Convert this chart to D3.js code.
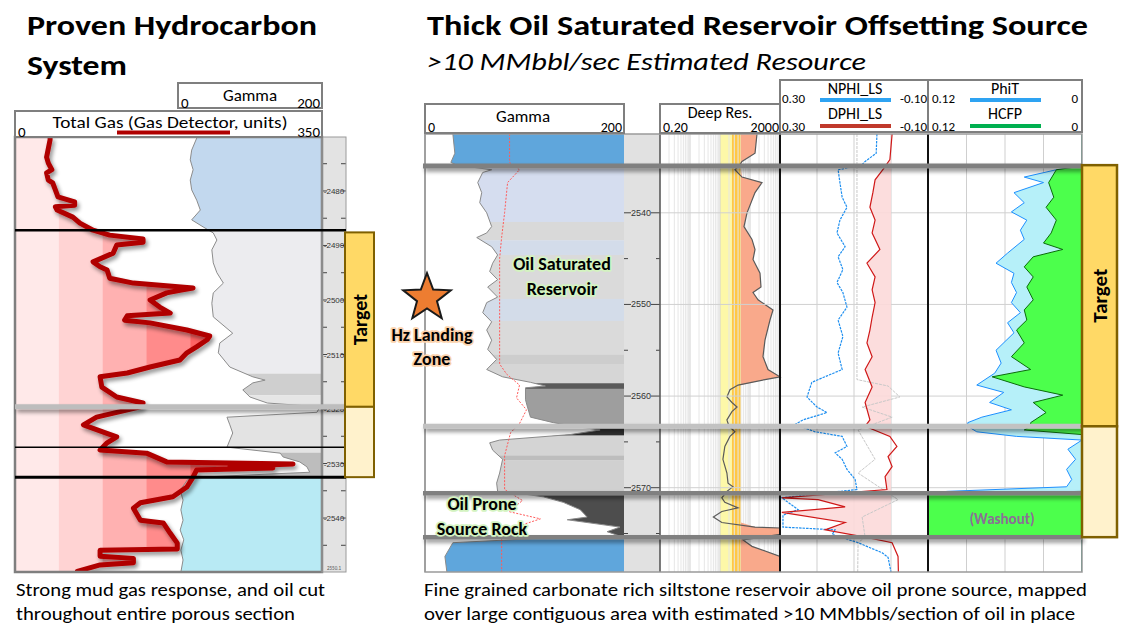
<!DOCTYPE html>
<html><head><meta charset="utf-8">
<script src="https://cdn.jsdelivr.net/npm/d3@7"></script>
<style>body{margin:0;background:#fff} svg{display:block}</style>
</head><body><svg id="c" width="1127" height="630"></svg>
<script>
// ---------------- DATA ----------------
// Left well (depth m, value)
const gasDepth = [2470.6,2473.8,2474.9,2476.1,2476.7,2478.0,2478.5,2481.1,2482.0,2482.6,2482.9,2483.5,2484.8,2485.9,2487.2,2488.1,2488.8,2489.4,2489.9,2491.4,2493.0,2493.9,2494.5,2496.0,2496.9,2497.8,2498.2,2498.7,2500.0,2501.3,2502.4,2502.9,2503.7,2504.2,2505.5,2506.6,2507.3,2508.6,2509.7,2511.0,2512.3,2513.4,2514.1,2516.0,2517.8,2518.9,2519.6,2521.5,2522.9,2524.2,2525.1,2526.2,2527.5,2528.1,2529.7,2530.1,2530.5,2530.8,2531.2,2532.5,2534.3,2536.1,2537.2,2538.2,2540.4,2540.9,2542.8,2544.6,2545.7,2545.9,2547.0,2547.4,2548.2,2548.6,2549.8];
const gasUnits = [40,36,38,42,36,38,43,49,68,68,46,48,66,74,89,108,146,146,116,112,89,97,105,108,135,203,188,173,154,165,177,128,125,154,196,222,219,207,196,188,154,128,97,99,116,146,143,93,78,100,116,105,97,150,173,317,245,294,207,203,196,180,143,135,143,169,177,185,185,97,97,135,135,97,71];
const gammaLDepth = [2470.3,2472.5,2474.3,2476.1,2478.0,2479.8,2481.7,2483.5,2485.3,2486.6,2487.7,2489.0,2490.8,2493.2,2495.0,2496.9,2498.7,2500.6,2503.1,2506.1,2507.9,2509.7,2512.3,2514.1,2514.7,2515.2,2516.5,2517.8,2518.9,2519.6,2520.6,2521.5,2522.9,2524.4,2525.7,2527.0,2528.1,2528.8,2529.7,2530.6,2531.6,2532.5,2533.0,2534.9,2536.7,2538.5,2540.4,2542.2,2544.0,2545.9,2547.7,2549.9];
const gammaLApi = [26,19,17,21,17,19,26,31,19,35,49,54,47,49,54,63,49,47,49,76,58,56,72,104,121,104,90,100,124,197,193,68,72,76,72,68,142,146,169,179,183,31,13,3,7,4,7,3,8,4,7,4];
const gammaLFacies = [[2470.1,2487.2,"#c2d8ee"],[2487.2,2513.5,"#ececef"],[2513.5,2517.5,"#cfcfcf"],[2517.5,2519.6,"#e6e6e6"],[2519.6,2528.0,"#e3e3e3"],[2528.0,2532.5,"#bdbdbd"],[2532.5,2549.9,"#b8eaf4"]];
const gasBands = [0,50,100,150,200,250,300,350];
const gasBandColors = ["#ffe9e9","#ffd3d3","#ffb1b1","#ff8b8b","#ff6464","#ff4a4a","#ff3a3a"];
const leftDepthTicks = [2480,2490,2500,2510,2520,2530,2540];
const leftZoneTops = [2487.2,2519.6,2527.0,2532.5];
const leftTarget = [2487.6,2519.6,2532.5];

// Right well
const grRDepth = [2531.4,2533.5,2534.5,2534.8,2535.3,2535.6,2536.7,2537.8,2538.9,2540.0,2541.5,2542.2,2542.7,2543.7,2544.6,2545.5,2546.4,2547.3,2548.1,2549.2,2549.8,2550.9,2551.9,2552.8,2553.9,2554.9,2556.0,2557.1,2557.9,2558.5,2558.9,2559.1,2560.4,2561.2,2562.3,2562.9,2563.3,2563.7,2564.2,2564.8,2565.1,2565.9,2566.9,2568.4,2569.5,2570.4,2570.7,2571.0,2571.6,2572.4,2573.2,2573.5,2574.3,2574.8,2575.4,2575.5,2576.0,2577.5,2579.2];
const grRApi = [28,30,26,32,67,58,53,57,55,62,67,62,52,67,73,68,65,73,63,73,62,58,67,62,67,63,72,62,78,106,121,101,101,103,106,129,150,176,146,75,65,68,78,75,72,73,100,119,139,156,163,143,196,183,199,120,28,20,22];
const caliDepth = [2531.4,2534.5,2535.3,2536.7,2540.0,2542.7,2545.0,2556.5,2557.6,2558.8,2560.2,2561.5,2563.0,2564.0,2566.5,2570.2,2571.4,2572.6,2573.4,2574.4,2575.5,2579.2];
const caliVal = [85,85,95,83,80,77,75,75,82,95,92,102,95,86,80,80,98,84,116,88,77,77];
const grRFacies = [[2531.4,2534.8,"#5fa6dc"],[2534.8,2541.0,"#d5ddef"],[2541.0,2543.0,"#d9d9d9"],[2543.0,2544.6,"#d3dcea"],[2544.6,2549.4,"#dadada"],[2549.4,2551.8,"#d3dce9"],[2551.8,2555.5,"#dadada"],[2555.5,2556.5,"#cdcdcd"],[2556.5,2558.6,"#d6d6d6"],[2558.6,2559.2,"#5a5a5a"],[2559.2,2563.3,"#9e9e9e"],[2563.3,2564.3,"#303030"],[2564.3,2566.5,"#d4d4d4"],[2566.5,2567.0,"#bdbdbd"],[2567.0,2570.7,"#d0d0d0"],[2570.7,2575.5,"#4d4d4d"],[2575.5,2579.2,"#5fa6dc"]];
const resDepth = [2531.4,2533.5,2534.4,2534.8,2535.3,2536.1,2536.7,2537.8,2540.0,2541.5,2542.9,2544.0,2545.1,2546.6,2548.1,2548.7,2549.5,2550.6,2551.7,2553.9,2555.7,2557.1,2557.9,2558.2,2558.8,2559.3,2560.1,2560.7,2561.2,2561.7,2562.6,2563.3,2563.9,2564.4,2565.5,2566.9,2568.4,2569.5,2569.9,2570.4,2571.1,2571.6,2572.2,2572.6,2573.2,2573.8,2574.3,2574.4,2575.1,2575.7,2576.4,2577.5,2579.2];
const resOhmm = [342,294,108,90,63,108,502,294,159,126,233,294,252,431,465,252,370,1169,928,632,542,796,2000,632,80,43,34,50,74,50,34,40,63,43,29,25,34,37,54,34,23,29,80,23,12,23,294,2000,2000,117,233,2000,2000];
const nphiDepth = [2531.4,2533.5,2534.4,2534.8,2535.3,2536.7,2538.3,2539.4,2540.8,2542.2,2543.7,2544.8,2546.2,2547.6,2548.7,2550.3,2551.7,2553.5,2555.3,2557.1,2558.5,2560.1,2561.2,2561.8,2562.6,2563.1,2563.9,2564.4,2565.5,2566.2,2566.9,2568.0,2569.1,2570.2,2571.1,2572.4,2573.0,2574.3,2574.6,2575.1,2576.0,2577.1,2577.6,2579.2];
const nphiVal = [0.038,0.040,0.070,0.080,0.143,0.138,0.132,0.119,0.138,0.146,0.124,0.143,0.130,0.146,0.130,0.119,0.143,0.130,0.143,0.132,0.214,0.227,0.200,0.173,0.238,0.259,0.205,0.132,0.119,0.151,0.132,0.119,0.097,0.092,0.295,0.251,0.292,0.292,0.151,0.159,0.089,0.024,0.008,0.000];
const dphiDepth = [2531.4,2534.2,2535.3,2536.4,2537.8,2539.4,2540.8,2542.2,2544.0,2545.5,2547.0,2548.4,2549.8,2551.4,2552.8,2554.2,2555.7,2557.1,2559.0,2560.7,2562.6,2563.3,2564.4,2565.5,2566.6,2567.7,2568.8,2570.2,2571.1,2571.3,2572.1,2572.7,2573.8,2574.6,2575.4,2576.0,2577.5,2579.2];
const dphiVal = [-0.003,0.003,0.022,0.043,0.049,0.057,0.043,0.051,0.030,0.065,0.043,0.051,0.043,0.051,0.057,0.065,0.051,0.070,0.051,0.070,0.057,0.070,0.003,-0.016,0.008,-0.003,0.016,0.011,0.295,0.197,0.124,0.295,0.124,0.178,0.070,-0.003,-0.019,-0.020];
const refDepth = [2531.4,2558.2,2558.9,2560.1,2561.2,2562.3,2563.7,2566.9,2568.4,2571.3,2573.2,2575.4,2576.0,2579.2];
const refVal = [0.092,0.092,0.008,-0.024,0.078,-0.003,0.089,0.043,0.089,-0.019,0.078,0.070,0.089,0.090];
const phitDepth = [2531.4,2534.9,2535.3,2536.1,2536.7,2537.8,2538.9,2539.9,2540.8,2541.9,2542.9,2544.4,2545.5,2546.6,2547.6,2548.7,2549.8,2550.9,2552.0,2553.1,2555.0,2556.4,2557.5,2558.8,2559.6,2560.7,2561.5,2562.3,2562.9,2563.3,2563.9,2564.4,2564.8,2565.8,2566.9,2568.0,2569.1,2569.9,2570.4,2570.6,2575.4,2575.5,2579.2];
const phitVal = [0,0,0.020,0.045,0.030,0.053,0.045,0.055,0.043,0.048,0.045,0.058,0.067,0.053,0.055,0.051,0.055,0.048,0.058,0.053,0.067,0.063,0.068,0.082,0.061,0.072,0.055,0.078,0.089,0.089,0.082,0.051,0.000,0.011,0.005,0.012,0.008,0.012,0.105,0.120,0.120,0,0];
const hcfpDepth = [2531.4,2534.9,2535.3,2536.7,2538.3,2539.4,2540.8,2542.2,2543.3,2544.0,2544.8,2545.9,2547.0,2548.1,2549.5,2550.6,2551.7,2552.8,2554.2,2555.7,2557.1,2557.9,2559.0,2559.9,2560.7,2561.8,2562.9,2563.3,2563.7,2564.2,2570.4,2570.7,2575.4,2575.5,2579.2];
const hcfpVal = [0,0,0.020,0.026,0.022,0.028,0.020,0.024,0.030,0.015,0.038,0.045,0.038,0.043,0.038,0.045,0.043,0.051,0.045,0.055,0.040,0.070,0.045,0.015,0.038,0.028,0.040,0.040,0.045,0,0,0.120,0.120,0,0];
const rightDepthTicks = [2540,2550,2560,2570];
const rightZoneTops = [2534.9,2563.3,2570.6,2575.4];
const rightTarget = [2534.8,2563.3,2575.4];

// ---------------- DRAWING ----------------
const FONT = "Carlito, Lato, 'Liberation Sans', sans-serif";
const svg = d3.select("#c");
const defs = svg.append("defs");
const sh = defs.append("filter").attr("id","sh").attr("filterUnits","userSpaceOnUse")
  .attr("x",0).attr("y",0).attr("width",1127).attr("height",630);
sh.append("feGaussianBlur").attr("in","SourceAlpha").attr("stdDeviation",2.2).attr("result","b");
sh.append("feOffset").attr("in","b").attr("dx",2).attr("dy",3).attr("result","o");
sh.append("feComponentTransfer").attr("in","o").attr("result","t").append("feFuncA").attr("type","linear").attr("slope",0.45);
const mg = sh.append("feMerge"); mg.append("feMergeNode").attr("in","t"); mg.append("feMergeNode").attr("in","SourceGraphic");

const zip = (a,b)=>a.map((d,i)=>[d,b[i]]);
const txt = (g,x,y,s,o={})=>{
  const t=g.append("text").attr("x",x).attr("y",y).text(s)
   .attr("font-family",FONT).attr("font-size",o.size||16).attr("fill",o.fill||"#000")
   .attr("font-weight",o.weight||"normal").attr("text-anchor",o.anchor||"start");
  if(o.style) t.attr("font-style",o.style);
  if(o.len) t.attr("textLength",o.len).attr("lengthAdjust","spacingAndGlyphs");
  return t;
};

// Titles
txt(svg,27,35,"Proven Hydrocarbon",{size:29,weight:"bold",len:290});
txt(svg,27,75,"System",{size:29,weight:"bold",len:100});
txt(svg,427,35,"Thick Oil Saturated Reservoir Offsetting Source",{size:29,weight:"bold",len:661});
txt(svg,427,70,">10 MMbbl/sec Estimated Resource",{size:25,style:"italic",len:439});
// Captions
txt(svg,16,596,"Strong mud gas response, and oil cut",{size:18,len:309});
txt(svg,16,620,"throughout entire porous section",{size:18,len:279});
txt(svg,424,596,"Fine grained carbonate rich siltstone reservoir above oil prone source, mapped",{size:18,len:663});
txt(svg,424,620,"over large contiguous area with estimated >10 MMbbls/section of oil in place",{size:18,len:651});

// ===== LEFT PANEL =====
const yL = d3.scaleLinear().domain([2470.1,2549.9]).range([137,572]);
const xGas = d3.scaleLinear().domain([0,350]).range([15,322]);
const xGrL = d3.scaleLinear().domain([0,200]).range([178,322]);
const L = svg.append("g");
defs.append("clipPath").attr("id","lt").append("rect").attr("x",15).attr("y",137).attr("width",307).attr("height",435);
const Lc = L.append("g").attr("clip-path","url(#lt)");
Lc.append("rect").attr("x",15).attr("y",137).attr("width",307).attr("height",435).attr("fill","#fff");
// gamma fill
const grL = zip(gammaLDepth,gammaLApi);
defs.append("clipPath").attr("id","grLclip").append("path")
  .attr("d",d3.area().y(d=>yL(d[0])).x0(d=>xGrL(d[1])).x1(322)(grL));
Lc.append("g").attr("clip-path","url(#grLclip)").selectAll("rect").data(gammaLFacies).join("rect")
  .attr("x",170).attr("width",160).attr("y",d=>yL(d[0])).attr("height",d=>yL(d[1])-yL(d[0])).attr("fill",d=>d[2]);
// gas fill
const gas = zip(gasDepth,gasUnits);
const gasFull = [[2470.1,gasUnits[0]],...gas,[2549.9,gasUnits[gasUnits.length-1]]];
defs.append("clipPath").attr("id","gasclip").append("path")
  .attr("d",d3.area().y(d=>yL(d[0])).x0(xGas(0)).x1(d=>xGas(d[1]))(gasFull));
Lc.append("g").attr("clip-path","url(#gasclip)").selectAll("rect").data(gasBandColors).join("rect")
  .attr("x",(d,i)=>xGas(gasBands[i])).attr("width",(d,i)=>xGas(gasBands[i+1])-xGas(gasBands[i])+0.5)
  .attr("y",137).attr("height",435).attr("fill",d=>d);
// gamma line
Lc.append("path").attr("d",d3.line().y(d=>yL(d[0])).x(d=>xGrL(d[1]))(grL))
  .attr("fill","none").attr("stroke","#8c8c8c").attr("stroke-width",1);
// gas line
Lc.append("path").attr("d",d3.line().y(d=>yL(d[0])).x(d=>xGas(d[1]))(gasFull))
  .attr("fill","none").attr("stroke","#b00000").attr("stroke-width",5).attr("stroke-linejoin","round").attr("filter","url(#sh)");
// depth track
L.append("rect").attr("x",322).attr("y",137).attr("width",24).attr("height",435).attr("fill","#e3e3e3");
const ldt = d3.range(2475,2550,5);
L.selectAll("line.lt").data(ldt).join("line").attr("x1",322).attr("x2",327).attr("y1",d=>yL(d)).attr("y2",d=>yL(d)).attr("stroke","#444");
L.selectAll("line.rt").data(ldt).join("line").attr("x1",341).attr("x2",346).attr("y1",d=>yL(d)).attr("y2",d=>yL(d)).attr("stroke","#444");
leftDepthTicks.forEach(d=>{txt(L,334,yL(d)+3,"-"+d,{size:8,anchor:"middle",fill:"#333"}).attr("font-family","'Liberation Sans',sans-serif");});
txt(L,334,570,"2550.1",{size:5,anchor:"middle",fill:"#555"});
// border
L.append("rect").attr("x",15).attr("y",137).attr("width",307).attr("height",435).attr("fill","none").attr("stroke","#7f7f7f").attr("stroke-width",2.5);
L.append("rect").attr("x",322).attr("y",137).attr("width",24).attr("height",435).attr("fill","none").attr("stroke","#9a9a9a").attr("stroke-width",1);
// zone lines
const lzStyle = [["#000",2.5,false],["#bdbdbd",5,true],["#000",1.5,false],["#000",3,false]];
leftZoneTops.forEach((d,i)=>{
  const l=L.append("line").attr("x1",15).attr("x2",346).attr("y1",yL(d)).attr("y2",yL(d)).attr("stroke",lzStyle[i][0]).attr("stroke-width",lzStyle[i][1]);
  if(lzStyle[i][2]) l.attr("filter","url(#sh)");
});
// target
L.append("rect").attr("x",345).attr("y",yL(leftTarget[0])).attr("width",29).attr("height",yL(leftTarget[1])-yL(leftTarget[0])).attr("fill","#ffd966").attr("stroke","#7f6000").attr("stroke-width",2);
L.append("rect").attr("x",345).attr("y",yL(leftTarget[1])).attr("width",29).attr("height",yL(leftTarget[2])-yL(leftTarget[1])).attr("fill","#fff2cc").attr("stroke","#7f6000").attr("stroke-width",2);
txt(L,0,0,"Target",{size:20,weight:"bold",anchor:"middle"}).attr("transform",`translate(367,${(yL(leftTarget[0])+yL(leftTarget[1]))/2}) rotate(-90)`);
// headers
L.append("rect").attr("x",178).attr("y",83).attr("width",144).attr("height",25).attr("fill","#fff").attr("stroke","#7f7f7f").attr("stroke-width",2);
txt(L,250,101,"Gamma",{size:17,anchor:"middle"});
txt(L,181,108,"0",{size:15});
txt(L,320,108,"200",{size:15,anchor:"end"});
L.append("rect").attr("x",15).attr("y",111).attr("width",307).attr("height",26).attr("fill","#fff").attr("stroke","#7f7f7f").attr("stroke-width",2);
txt(L,170,128,"Total Gas (Gas Detector, units)",{size:17,anchor:"middle",len:235});
L.append("line").attr("x1",117).attr("x2",230).attr("y1",132.5).attr("y2",132.5).attr("stroke","#b00000").attr("stroke-width",4);
txt(L,18,137,"0",{size:15});
txt(L,320,137,"350",{size:15,anchor:"end"});

// ===== RIGHT PANEL =====
const yR = d3.scaleLinear().domain([2531.4,2579.2]).range([134,572]);
const xGrR = d3.scaleLinear().domain([0,200]).range([425,624]);
const xRes = d3.scaleLog().domain([0.2,2000]).range([660,780]).clamp(true);
const xNeu = d3.scaleLinear().domain([0.30,-0.10]).range([780,928]);
const xPhi = d3.scaleLinear().domain([0.12,0]).range([928,1082]);
const R = svg.append("g");
R.append("rect").attr("x",425).attr("y",134).attr("width",657).attr("height",438).attr("fill","#fff");
defs.append("clipPath").attr("id","rt").append("rect").attr("x",425).attr("y",134).attr("width",657).attr("height",438);
const Rc = R.append("g").attr("clip-path","url(#rt)");
// gamma fill
const grR = zip(grRDepth,grRApi);
defs.append("clipPath").attr("id","grRclip").append("path")
  .attr("d",d3.area().y(d=>yR(d[0])).x0(d=>xGrR(d[1])).x1(624)(grR));
Rc.append("g").attr("clip-path","url(#grRclip)").selectAll("rect").data(grRFacies).join("rect")
  .attr("x",425).attr("width",200).attr("y",d=>yR(d[0])).attr("height",d=>yR(d[1])-yR(d[0])+0.3).attr("fill",d=>d[2]);
Rc.append("path").attr("d",d3.line().y(d=>yR(d[0])).x(d=>xGrR(d[1]))(grR)).attr("fill","none").attr("stroke","#8a8a8a").attr("stroke-width",1);
Rc.append("path").attr("d",d3.line().y(d=>yR(d[0])).x(d=>xGrR(d[1]))(zip(caliDepth,caliVal))).attr("fill","none").attr("stroke","#ff5a5a").attr("stroke-width",1).attr("stroke-dasharray","2,1.5");
// depth track
Rc.append("rect").attr("x",624).attr("y",134).attr("width",36).attr("height",438).attr("fill","#e1e1e1");
const rdt = d3.range(2535,2580,5);
Rc.selectAll("line.a").data(rdt).join("line").attr("x1",624).attr("x2",d=>d%10===0?631:628).attr("y1",d=>yR(d)).attr("y2",d=>yR(d)).attr("stroke","#444");
Rc.selectAll("line.b").data(rdt).join("line").attr("x1",d=>d%10===0?651:656).attr("x2",660).attr("y1",d=>yR(d)).attr("y2",d=>yR(d)).attr("stroke","#444");
rightDepthTicks.forEach(d=>{txt(Rc,641,yR(d)+3,d,{size:9,anchor:"middle",fill:"#333"}).attr("font-family","'Liberation Sans',sans-serif");});
// resistivity track
const resGrid = [];
[0.2,2,20,200].forEach(b=>{for(let m=1;m<10;m++) resGrid.push(b*m);});
Rc.append("rect").attr("x",xRes(20)).attr("y",134).attr("width",xRes(50)-xRes(20)).attr("height",438).attr("fill","#fdf8a8");
Rc.append("rect").attr("x",xRes(50)).attr("y",134).attr("width",xRes(100)-xRes(50)).attr("height",438).attr("fill","#ffc845");
Rc.selectAll("line.rg").data(resGrid).join("line").attr("x1",d=>xRes(d)).attr("x2",d=>xRes(d)).attr("y1",134).attr("y2",572)
  .attr("stroke",(d,i)=>i%9===0?"#d2d2d2":"#e6e6e6").attr("stroke-width",1);
const res = zip(resDepth,resOhmm);
Rc.append("path").attr("d",d3.area().y(d=>yR(d[0])).x0(xRes(100)).x1(d=>xRes(Math.max(d[1],100)))(res)).attr("fill","#f9a98b");
Rc.append("path").attr("d",d3.line().y(d=>yR(d[0])).x(d=>xRes(d[1]))(res)).attr("fill","none").attr("stroke","#5a5a5a").attr("stroke-width",1.2);
// neutron-density track
[0.2,0.1,0.0].forEach(v=>Rc.append("line").attr("x1",xNeu(v)).attr("x2",xNeu(v)).attr("y1",134).attr("y2",572).attr("stroke","#cfcfcf"));
[0.09,0.06,0.03].forEach(v=>Rc.append("line").attr("x1",xPhi(v)).attr("x2",xPhi(v)).attr("y1",134).attr("y2",572).attr("stroke","#cfcfcf"));
rightDepthTicks.forEach(d=>Rc.append("line").attr("x1",660).attr("x2",1082).attr("y1",yR(d)).attr("y2",yR(d)).attr("stroke","#d0d0d0"));
const dphi = zip(dphiDepth,dphiVal);
Rc.append("path").attr("d",d3.area().y(d=>yR(d[0])).x0(xNeu(0)).x1(d=>xNeu(Math.max(d[1],0)))(dphi)).attr("fill","#fcd9d9").attr("opacity",0.9);
Rc.append("path").attr("d",d3.line().y(d=>yR(d[0])).x(d=>xNeu(d[1]))(zip(refDepth,refVal))).attr("fill","none").attr("stroke","#c8c8c8").attr("stroke-width",1).attr("stroke-dasharray","3,1");
Rc.append("path").attr("d",d3.line().y(d=>yR(d[0])).x(d=>xNeu(d[1]))(zip(nphiDepth,nphiVal))).attr("fill","none").attr("stroke","#1e8ff0").attr("stroke-width",1.2).attr("stroke-dasharray","2.5,1");
Rc.append("path").attr("d",d3.line().y(d=>yR(d[0])).x(d=>xNeu(d[1]))(dphi)).attr("fill","none").attr("stroke","#d01818").attr("stroke-width",1.2);
// PhiT / HCFP
const phit = zip(phitDepth,phitVal), hcfp = zip(hcfpDepth,hcfpVal);
Rc.append("path").attr("d",d3.area().y(d=>yR(d[0])).x0(d=>xPhi(d[1])).x1(1082)(phit)).attr("fill","#b6f0f9");
Rc.append("path").attr("d",d3.line().y(d=>yR(d[0])).x(d=>xPhi(d[1]))(phit)).attr("fill","none").attr("stroke","#1e90ff").attr("stroke-width",1);
Rc.append("path").attr("d",d3.area().y(d=>yR(d[0])).x0(d=>xPhi(d[1])).x1(1082)(hcfp)).attr("fill","#4cff4c");
Rc.append("path").attr("d",d3.line().y(d=>yR(d[0])).x(d=>xPhi(d[1]))(hcfp)).attr("fill","none").attr("stroke","#0b6b0b").attr("stroke-width",1);
// track borders
R.append("line").attr("x1",425).attr("x2",425).attr("y1",134).attr("y2",572).attr("stroke","#9a9a9a").attr("stroke-width",1.5);
R.append("line").attr("x1",660).attr("x2",660).attr("y1",134).attr("y2",572).attr("stroke","#333").attr("stroke-width",1.2);
R.append("line").attr("x1",780).attr("x2",780).attr("y1",134).attr("y2",572).attr("stroke","#111").attr("stroke-width",2);
R.append("line").attr("x1",928).attr("x2",928).attr("y1",134).attr("y2",572).attr("stroke","#111").attr("stroke-width",2);
R.append("rect").attr("x",425).attr("y",134).attr("width",657).attr("height",438).attr("fill","none").attr("stroke","#9a9a9a").attr("stroke-width",1.5);
// zone lines
const rzStyle = [["#808080",5],["#c2c2c2",5],["#808080",4.5],["#808080",4.5]];
rightZoneTops.forEach((d,i)=>R.append("line").attr("x1",423).attr("x2",1082).attr("y1",yR(d)).attr("y2",yR(d))
  .attr("stroke",rzStyle[i][0]).attr("stroke-width",rzStyle[i][1]).attr("filter","url(#sh)"));
// target
R.append("rect").attr("x",1082).attr("y",yR(rightTarget[0])).attr("width",35).attr("height",yR(rightTarget[1])-yR(rightTarget[0])).attr("fill","#ffd966").attr("stroke","#7f6000").attr("stroke-width",2.5);
R.append("rect").attr("x",1082).attr("y",yR(rightTarget[1])).attr("width",35).attr("height",yR(rightTarget[2])-yR(rightTarget[1])).attr("fill","#fff2cc").attr("stroke","#7f6000").attr("stroke-width",2.5);
txt(R,0,0,"Target",{size:21,weight:"bold",anchor:"middle"}).attr("transform",`translate(1107,${(yR(rightTarget[0])+yR(rightTarget[1]))/2}) rotate(-90)`);
// headers
const hb=(x,y,w,h)=>R.append("rect").attr("x",x).attr("y",y).attr("width",w).attr("height",h).attr("fill","#fff").attr("stroke","#7f7f7f").attr("stroke-width",2);
hb(425,104,199,29); txt(R,523,122,"Gamma",{size:17,anchor:"middle"}); txt(R,428,132,"0",{size:14}); txt(R,622,132,"200",{size:14,anchor:"end"});
hb(660,104,120,29); txt(R,720,118,"Deep Res.",{size:16,anchor:"middle"}); txt(R,663,132,"0.20",{size:14}); txt(R,779,132,"2000",{size:14,anchor:"end"});
hb(780,80,148,52);
txt(R,855,94,"NPHI_LS",{size:16,anchor:"middle"}); txt(R,782,103,"0.30",{size:13}); txt(R,927,103,"-0.10",{size:13,anchor:"end"});
R.append("line").attr("x1",820).attr("x2",891).attr("y1",100).attr("y2",100).attr("stroke","#2ea3f2").attr("stroke-width",4);
txt(R,855,119,"DPHI_LS",{size:16,anchor:"middle"}); txt(R,782,131,"0.30",{size:13}); txt(R,927,131,"-0.10",{size:13,anchor:"end"});
R.append("line").attr("x1",820).attr("x2",891).attr("y1",126).attr("y2",126).attr("stroke","#c0392b").attr("stroke-width",4);
hb(928,80,154,52);
txt(R,1005,94,"PhiT",{size:16,anchor:"middle"}); txt(R,932,103,"0.12",{size:13}); txt(R,1078,103,"0",{size:13,anchor:"end"});
R.append("line").attr("x1",970).attr("x2",1041).attr("y1",100).attr("y2",100).attr("stroke","#2ea3f2").attr("stroke-width",4);
txt(R,1005,119,"HCFP",{size:16,anchor:"middle"}); txt(R,932,131,"0.12",{size:13}); txt(R,1078,131,"0",{size:13,anchor:"end"});
R.append("line").attr("x1",970).attr("x2",1041).attr("y1",126).attr("y2",126).attr("stroke","#00b050").attr("stroke-width",4);

// annotations
const halo=(t,c)=>t.attr("stroke",c).attr("stroke-width",3.5).attr("paint-order","stroke").attr("stroke-linejoin","round");
halo(txt(svg,562,270,"Oil Saturated",{size:18,weight:"bold",anchor:"middle"}),"#d3f3c0");
halo(txt(svg,562,295,"Reservoir",{size:18,weight:"bold",anchor:"middle"}),"#d3f3c0");
halo(txt(svg,482,510,"Oil Prone",{size:18,weight:"bold",anchor:"middle"}),"#d3f3c0");
halo(txt(svg,482,535,"Source Rock",{size:18,weight:"bold",anchor:"middle"}),"#d3f3c0");
halo(txt(svg,432,341,"Hz Landing",{size:18,weight:"bold",anchor:"middle"}),"#fbd2ac");
halo(txt(svg,432,365,"Zone",{size:18,weight:"bold",anchor:"middle"}),"#fbd2ac");
txt(svg,1002,524,"(Washout)",{size:15,weight:"bold",anchor:"middle",fill:"#8b6f96"});
// star
const starPts = d3.range(10).map(i=>{const r=i%2===0?25:10.5, a=-Math.PI/2+i*Math.PI/5; return [427+r*Math.cos(a),298+r*Math.sin(a)];});
svg.append("path").attr("d",d3.line()(starPts)+"Z").attr("fill","#ed7d31").attr("stroke","#1a1a1a").attr("stroke-width",2).attr("stroke-linejoin","miter");
</script></body></html>
